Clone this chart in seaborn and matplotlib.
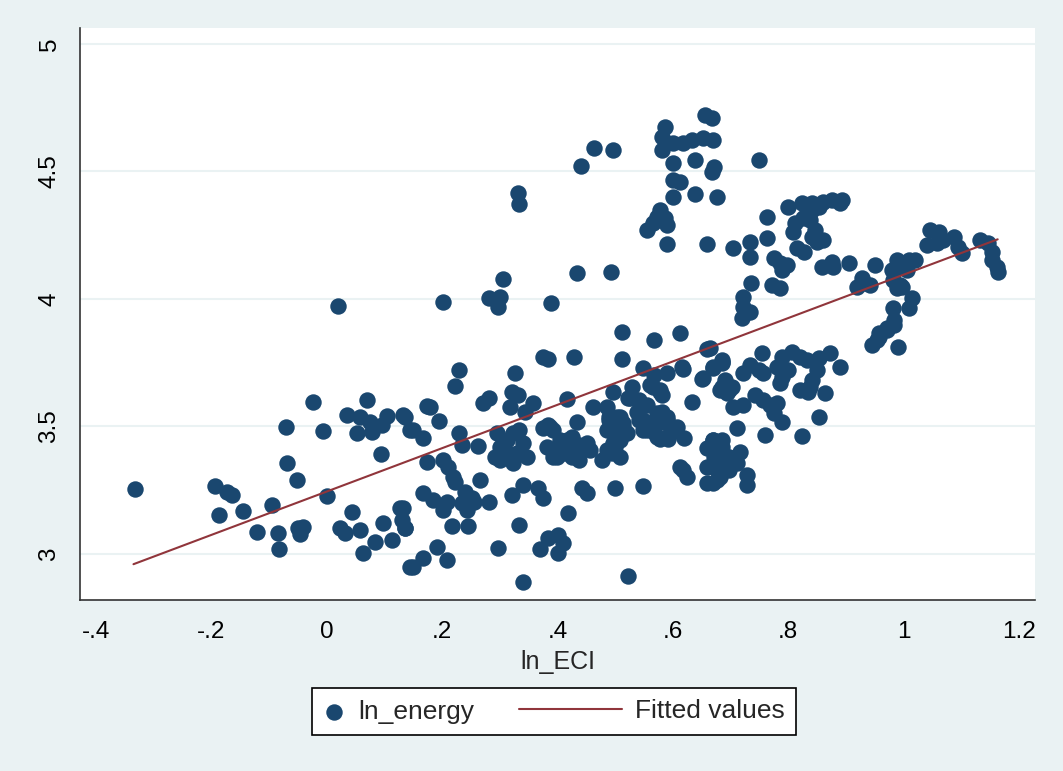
import numpy as np
import pandas as pd
import matplotlib
matplotlib.use("Agg")
import matplotlib.pyplot as plt
import seaborn as sns
from matplotlib.legend_handler import HandlerLine2D
from matplotlib.lines import Line2D

# values
ln_eci = [
    -0.333, -0.194, -0.173, -0.165, -0.187, -0.146, -0.121, -0.095, -0.085, -0.083,
    -0.071, -0.069, -0.052, -0.050, -0.042, -0.047, -0.024, -0.007, 0.000, 0.023,
    0.043, 0.035, 0.057, 0.075, 0.069, 0.095, 0.104, 0.052, 0.078, 0.094,
    0.031, 0.057, 0.062, 0.083, 0.097, 0.113, 0.127, 0.132, 0.135, 0.144,
    0.144, 0.019,
    0.511, 0.568, 0.612, 0.660, 0.374, 0.383, 0.428, 0.511, 0.229, 0.222,
    0.326, 0.548, 0.615, 0.617, 0.650, 0.669, 0.173, 0.179, 0.135, 0.194,
    0.270, 0.282, 0.321, 0.331, 0.317, 0.343, 0.357, 0.416, 0.461, 0.496,
    0.529, 0.525, 0.565, 0.577, 0.555, 0.542, 0.634, 0.582, 0.589, 0.565,
    0.548, 0.490, 0.508, 0.513, 0.503, 0.485, 0.496, 0.494, 0.508, 0.478,
    0.607, 0.594, 0.572, 0.556, 0.620, 0.612, 0.624, 0.659, 0.669, 0.672,
    0.669, 0.660, 0.676, 0.149, 0.166, 0.230, 0.234, 0.262, 0.295, 0.300,
    0.312, 0.291, 0.300, 0.322, 0.334, 0.340, 0.347, 0.322, 0.312, 0.329,
    0.374, 0.383, 0.392, 0.433, 0.381, 0.399, 0.392, 0.409, 0.426, 0.438,
    0.451, 0.426, 0.173, 0.201, 0.210, 0.218, 0.222, 0.265, 0.166, 0.184,
    0.208, 0.201, 0.239, 0.251, 0.234, 0.243, 0.256, 0.282, 0.321, 0.340,
    0.366, 0.374, 0.442, 0.452, 0.499, 0.548, 0.418, 0.132, 0.130, 0.135,
    0.217, 0.244, 0.334, 0.296, 0.191, 0.208, 0.149, 0.166, 0.369, 0.383,
    0.400, 0.409, 0.400, 0.341, 0.522,
    0.655, 0.667, 0.586, 0.582, 0.581, 0.600, 0.617, 0.634, 0.652, 0.669,
    0.600, 0.638, 0.667, 0.672, 0.464, 0.496, 0.440, 0.600, 0.612, 0.600,
    0.638, 0.676, 0.577, 0.572, 0.586, 0.565, 0.555, 0.589, 0.589, 0.659,
    0.331, 0.333, 0.433, 0.492, 0.305, 0.282, 0.300, 0.296, 0.201, 0.388,
    0.750, 0.799, 0.823, 0.842, 0.860, 0.875, 0.893, 0.889, 0.832, 0.842,
    0.854, 0.763, 0.811, 0.808, 0.825, 0.837, 0.846, 0.842, 0.860, 0.849,
    0.764, 0.733, 0.733, 0.704, 0.816, 0.828, 0.776, 0.785, 0.797, 0.789,
    0.858, 0.875, 0.877, 0.906, 0.951, 0.735, 0.771, 0.785, 0.927, 0.932,
    0.941, 0.920, 1.045, 1.062, 1.068, 1.040, 1.057, 1.088, 1.094, 1.101,
    1.132, 1.146, 1.153, 1.154, 1.161, 1.163, 0.988, 1.010, 1.019, 0.993,
    0.979, 1.005, 0.981, 0.993, 0.988, 0.998, 1.014, 1.010, 0.981, 0.984,
    0.971, 0.958, 0.953, 0.946, 0.991, 0.721, 0.721, 0.733, 0.719, 0.754,
    0.686,
    0.958, 0.971, 0.984, 0.664, 0.789, 0.806, 0.820, 0.832, 0.854, 0.872,
    0.889, 0.686, 0.669, 0.721, 0.733, 0.750, 0.756, 0.780, 0.789, 0.799,
    0.785, 0.849, 0.842, 0.837, 0.820, 0.834, 0.863, 0.686, 0.698, 0.690,
    0.704, 0.721, 0.742, 0.756, 0.768, 0.780, 0.776, 0.789, 0.853, 0.712,
    0.759, 0.823, 0.669, 0.686, 0.681, 0.698, 0.716, 0.711, 0.728, 0.728,
    0.669, 0.681, 0.698,
    0.589, 0.568, 0.560, 0.577, 0.582, 0.522, 0.485, 0.504, 0.490, 0.513,
    0.503, 0.520, 0.508, 0.499, 0.485, 0.537, 0.542, 0.560, 0.548, 0.572,
    0.581, 0.589, 0.568, 0.577, 0.591, 0.598, 0.652, 0.686, 0.681, 0.693,
    0.702, 0.685, 0.693, 0.676, 0.659, 0.617, 0.387, 0.404, 0.399, 0.416,
    0.433, 0.451, 0.456, 0.438, 0.412,
]

ln_energy = [
    3.255, 3.267, 3.243, 3.231, 3.153, 3.169, 3.086, 3.192, 3.082, 3.020,
    3.498, 3.357, 3.290, 3.100, 3.106, 3.080, 3.596, 3.482, 3.227, 3.100,
    3.165, 3.545, 3.537, 3.518, 3.604, 3.506, 3.541, 3.475, 3.478, 3.392,
    3.082, 3.094, 3.004, 3.047, 3.122, 3.055, 3.180, 3.545, 3.100, 3.486,
    2.949, 3.973,
    3.871, 3.839, 3.867, 3.804, 3.773, 3.765, 3.773, 3.765, 3.722, 3.659,
    3.710, 3.729, 3.733, 3.725, 3.686, 3.729, 3.580, 3.576, 3.537, 3.522,
    3.592, 3.612, 3.635, 3.624, 3.576, 3.557, 3.592, 3.608, 3.576, 3.635,
    3.655, 3.612, 3.655, 3.635, 3.584, 3.604, 3.596, 3.557, 3.525, 3.514,
    3.525, 3.537, 3.537, 3.498, 3.475, 3.486, 3.435, 3.396, 3.380, 3.369,
    3.498, 3.467, 3.459, 3.486, 3.455, 3.341, 3.302, 3.416, 3.447, 3.380,
    3.341, 3.278, 3.290, 3.486, 3.455, 3.475, 3.427, 3.424, 3.475, 3.420,
    3.447, 3.380, 3.369, 3.475, 3.486, 3.435, 3.380, 3.357, 3.396, 3.396,
    3.494, 3.506, 3.486, 3.518, 3.420, 3.400, 3.380, 3.435, 3.459, 3.427,
    3.416, 3.380, 3.361, 3.369, 3.341, 3.302, 3.282, 3.290, 3.239, 3.212,
    3.204, 3.173, 3.243, 3.220, 3.200, 3.173, 3.204, 3.204, 3.231, 3.270,
    3.259, 3.220, 3.259, 3.239, 3.259, 3.267, 3.161, 3.180, 3.133, 3.102,
    3.110, 3.110, 3.114, 3.024, 3.027, 2.976, 2.949, 2.984, 3.020, 3.063,
    3.075, 3.043, 3.004, 2.890, 2.914,
    4.722, 4.710, 4.675, 4.635, 4.584, 4.612, 4.612, 4.624, 4.631, 4.624,
    4.533, 4.545, 4.498, 4.518, 4.592, 4.584, 4.522, 4.467, 4.459, 4.400,
    4.412, 4.400, 4.349, 4.322, 4.318, 4.298, 4.271, 4.290, 4.216, 4.216,
    4.416, 4.373, 4.102, 4.106, 4.078, 4.004, 4.008, 3.969, 3.988, 3.984,
    4.545, 4.361, 4.376, 4.376, 4.380, 4.388, 4.388, 4.376, 4.337, 4.349,
    4.361, 4.322, 4.298, 4.263, 4.318, 4.310, 4.271, 4.243, 4.231, 4.224,
    4.239, 4.224, 4.165, 4.200, 4.200, 4.184, 4.161, 4.141, 4.133, 4.114,
    4.125, 4.145, 4.125, 4.141, 4.133, 4.063, 4.055, 4.043, 4.082, 4.063,
    4.055, 4.047, 4.271, 4.263, 4.231, 4.212, 4.220, 4.243, 4.204, 4.180,
    4.231, 4.220, 4.184, 4.153, 4.125, 4.106, 4.153, 4.153, 4.153, 4.125,
    4.114, 4.114, 4.075, 4.055, 4.043, 4.047, 4.004, 3.965, 3.965, 3.918,
    3.886, 3.867, 3.839, 3.820, 3.812, 4.008, 3.969, 3.949, 3.925, 3.788,
    3.760,
    3.851, 3.878, 3.898, 3.808, 3.773, 3.792, 3.773, 3.760, 3.769, 3.788,
    3.733, 3.753, 3.733, 3.710, 3.741, 3.722, 3.710, 3.733, 3.694, 3.722,
    3.671, 3.722, 3.682, 3.655, 3.643, 3.635, 3.631, 3.655, 3.643, 3.682,
    3.576, 3.584, 3.624, 3.604, 3.584, 3.592, 3.553, 3.518, 3.537, 3.494,
    3.467, 3.463, 3.447, 3.447, 3.396, 3.380, 3.400, 3.357, 3.310, 3.271,
    3.278, 3.302, 3.329,
    3.710, 3.702, 3.663, 3.643, 3.624, 3.612, 3.576, 3.537, 3.525, 3.514,
    3.486, 3.475, 3.447, 3.420, 3.408, 3.557, 3.525, 3.514, 3.486, 3.553,
    3.518, 3.537, 3.478, 3.451, 3.451, 3.486, 3.690, 3.749, 3.643, 3.631,
    3.655, 3.420, 3.380, 3.357, 3.341, 3.329, 3.498, 3.447, 3.380, 3.447,
    3.420, 3.435, 3.408, 3.369, 3.396,
]

# fitted line end points
fit_x = [-0.335, 1.163]
fit_y = [2.960, 4.234]

x_ticks = [-0.4, -0.2, 0, 0.2, 0.4, 0.6, 0.8, 1.0, 1.2]
x_tick_labels = ["-.4", "-.2", "0", ".2", ".4", ".6", ".8", "1", "1.2"]
y_ticks = [3, 3.5, 4, 4.5, 5]
y_tick_labels = ["3", "3.5", "4", "4.5", "5"]

bg = '#eaf2f3'
navy = '#1a476f'
maroon = '#90353b'

sns.set_style("white")
plt.rcParams['font.family'] = ['Liberation Sans', 'DejaVu Sans']

fig = plt.figure(figsize=(10.63, 7.71), dpi=100, facecolor=bg)
ax = fig.add_axes([80/1063, 1 - 600/771, 955/1063, 572/771])
ax.set_facecolor('white')

df = pd.DataFrame({'ln_ECI': ln_eci, 'ln_energy': ln_energy})
sns.scatterplot(data=df, x='ln_ECI', y='ln_energy', ax=ax, s=140, color=navy,
                linewidth=0, label='ln_energy', zorder=3)
ax.plot(fit_x, fit_y, color=maroon, lw=1.5, label='Fitted values', zorder=4)

ax.set_xlim(-0.4277, 1.2277)
ax.set_ylim(2.8196, 5.0627)
ax.set_xticks(x_ticks)
ax.set_xticklabels(x_tick_labels)
ax.set_yticks(y_ticks)
ax.set_yticklabels(y_tick_labels, rotation=90, va='center')

ax.set_axisbelow(True)
ax.yaxis.grid(True, color=bg, lw=1.5)
ax.xaxis.grid(False)

for side in ['top', 'right']:
    ax.spines[side].set_visible(False)
for side in ['left', 'bottom']:
    ax.spines[side].set_color('#333333')
    ax.spines[side].set_linewidth(1.2)

ax.tick_params(axis='both', direction='out', length=8, width=1, color='#333333',
               labelsize=17.5, labelcolor='black')
ax.tick_params(axis='x', pad=7)
ax.tick_params(axis='y', pad=6)
ax.set_xlabel('ln_ECI', fontsize=18, labelpad=5)
ax.set_ylabel('')


class WideLine(HandlerLine2D):
    # longer line handle than the marker one
    def get_xdata(self, legend, xdescent, ydescent, width, height, fontsize):
        xdata, xdata_marker = super().get_xdata(legend, xdescent, ydescent, width, height, fontsize)
        xdata = np.array(xdata, dtype=float)
        xdata[0] -= 3.1 * fontsize
        return xdata, xdata_marker


ax.get_legend().remove()
handles, labels = ax.get_legend_handles_labels()
line_handle = [h for h in handles if isinstance(h, Line2D)][0]
leg = fig.legend(handles, labels, loc='center', bbox_to_anchor=(554/1063, 1 - 711.5/771),
                 ncol=2, fontsize=19, frameon=True, fancybox=False, framealpha=1,
                 edgecolor='black', handlelength=0.8, handletextpad=0.5,
                 columnspacing=4.8, borderpad=0.45,
                 handler_map={line_handle: WideLine()})
leg.get_frame().set_linewidth(1.2)

fig.savefig('out.png', dpi=100, facecolor=bg)
